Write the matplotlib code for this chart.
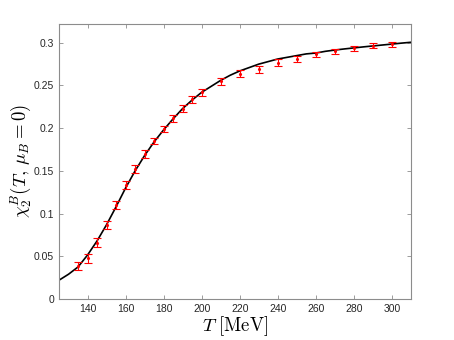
import numpy as np
import matplotlib
matplotlib.use('Agg')
import matplotlib.pyplot as plt

plt.rcParams['mathtext.fontset'] = 'cm'
plt.rcParams['font.family'] = ['Liberation Sans', 'DejaVu Sans']

# lattice data points (T in MeV, chi2^B, error)
T_data = [135, 140, 145, 150, 155, 160, 165, 170, 175, 180, 185, 190, 195, 200,
          210, 220, 230, 240, 250, 260, 270, 280, 290, 300]
chi_data = [0.0387, 0.0475, 0.066, 0.0867, 0.110, 0.1335, 0.152, 0.1696, 0.185, 0.199,
            0.2117, 0.223, 0.234, 0.2418, 0.255, 0.2637, 0.269, 0.2765, 0.281, 0.2864,
            0.290, 0.2937, 0.2965, 0.2984]
chi_err = [0.005, 0.005, 0.005, 0.005, 0.005, 0.005, 0.005, 0.005, 0.004, 0.004,
           0.004, 0.004, 0.004, 0.004, 0.004, 0.004, 0.004, 0.004, 0.004, 0.003,
           0.003, 0.003, 0.003, 0.003]

# model curve
T_curve = [125, 130, 135, 140, 145, 150, 155, 160, 165, 170, 175, 180, 185, 190,
           195, 200, 205, 210, 215, 220, 225, 230, 235, 240, 245, 250, 255, 260,
           265, 270, 275, 280, 285, 290, 295, 300, 305, 310]
chi_curve = [0.022, 0.029, 0.0375, 0.0515, 0.068, 0.087, 0.108, 0.130, 0.150, 0.168,
             0.184, 0.198, 0.211, 0.223, 0.233, 0.242, 0.249, 0.256, 0.262, 0.267,
             0.271, 0.275, 0.278, 0.281, 0.283, 0.285, 0.287, 0.288, 0.290, 0.2915,
             0.2928, 0.294, 0.2952, 0.2963, 0.2974, 0.2985, 0.2996, 0.3006]

fig = plt.figure(figsize=(4.54, 3.40), dpi=100)
ax = fig.add_axes([0.130, 0.1206, 0.775, 0.8088])

ax.plot(T_curve, chi_curve, color='black', linewidth=1.2, zorder=2)
ax.errorbar(T_data, chi_data, yerr=chi_err, fmt='.', color='red', ecolor='red',
            markersize=2.5, elinewidth=0.8, capsize=3, capthick=0.8, zorder=3)

ax.set_xlim(125, 310)
ax.set_ylim(0, 0.322)
ax.set_xticks([140, 160, 180, 200, 220, 240, 260, 280, 300])
ax.set_yticks([0, 0.05, 0.1, 0.15, 0.2, 0.25, 0.3])
ax.set_yticklabels(['0', '0.05', '0.1', '0.15', '0.2', '0.25', '0.3'])

for s in ax.spines.values():
    s.set_color('#8c8c8c')
    s.set_linewidth(0.8)
ax.tick_params(direction='in', length=3, width=0.6, color='#8c8c8c',
               labelsize=7.5, labelcolor='#262626', top=True, right=True)

ax.set_xlabel(r'$T\ [\mathrm{MeV}]$', fontsize=13.5, labelpad=0)
ax.set_ylabel(r'$\chi_2^B(T,\,\mu_B=0)$', fontsize=13.5, labelpad=1)

fig.savefig('out.png', dpi=100)
